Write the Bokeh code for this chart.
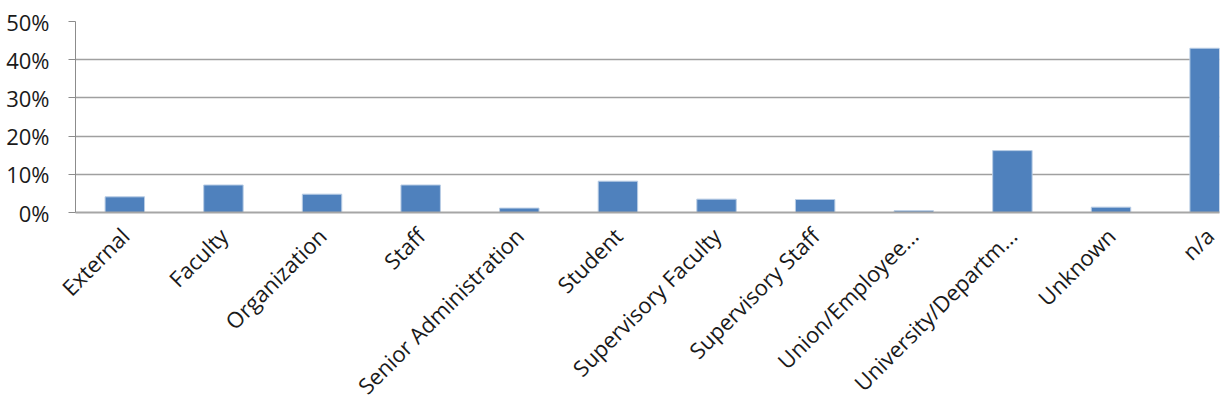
from bokeh.plotting import figure
from bokeh.models import FixedTicker, PrintfTickFormatter, ColumnDataSource, Range1d
from bokeh.embed import file_html
from bokeh.resources import INLINE
import math

categories = ["External", "Faculty", "Organization", "Staff", "Senior Administration",
              "Student", "Supervisory Faculty", "Supervisory Staff", "Union/Employee...",
              "University/Departm...", "Unknown", "n/a"]
values = [4.1, 7.2, 4.8, 7.2, 1.15, 8.2, 3.5, 3.4, 0.45, 16.2, 1.4, 43.0]
y_ticks = [0, 10, 20, 30, 40, 50]

xs = [i + 0.5 for i in range(len(categories))]
src = ColumnDataSource(dict(x=xs, top=values, cat=categories))

p = figure(width=1225, height=414, output_backend="svg", toolbar_location=None,
           x_range=Range1d(0, 11.6), y_range=Range1d(0, 50),
           min_border_left=75, min_border_right=6, min_border_top=21, min_border_bottom=202)
p.outline_line_color = None
p.background_fill_color = "white"

p.vbar(x="x", top="top", width=0.4, bottom=0, source=src,
       fill_color="#4F81BD", line_color="#B9CDE5", line_width=1)

# y axis
p.yaxis.ticker = FixedTicker(ticks=y_ticks)
p.yaxis.formatter = PrintfTickFormatter(format="%d%%")
p.yaxis.axis_line_color = "#8C8C8C"
p.yaxis.axis_line_width = 1
p.yaxis.major_tick_line_color = "#8C8C8C"
p.yaxis.major_tick_out = 7
p.yaxis.major_tick_in = 0
p.yaxis.minor_tick_line_color = None
p.yaxis.major_label_text_font = "Open Sans"
p.yaxis.major_label_text_font_size = "22px"
p.yaxis.major_label_text_color = "#1a1a1a"
p.yaxis.major_label_standoff = 19

# x axis
p.xaxis.ticker = FixedTicker(ticks=xs)
p.xaxis.major_label_overrides = {x: c for x, c in zip(xs, categories)}
p.xaxis.major_label_orientation = math.pi / 4
p.xaxis.axis_line_color = "#A6A6A6"
p.xaxis.axis_line_width = 2
p.xaxis.major_tick_line_color = None
p.xaxis.minor_tick_line_color = None
p.xaxis.major_label_text_font = "Open Sans"
p.xaxis.major_label_text_font_size = "22px"
p.xaxis.major_label_text_color = "#1a1a1a"
p.xaxis.major_label_standoff = 13

p.xgrid.grid_line_color = None
p.ygrid.ticker = FixedTicker(ticks=y_ticks[1:])
p.ygrid.grid_line_color = "#A0A0A0"
p.ygrid.grid_line_width = 1.5

open("out.html", "w").write(file_html(p, INLINE))
